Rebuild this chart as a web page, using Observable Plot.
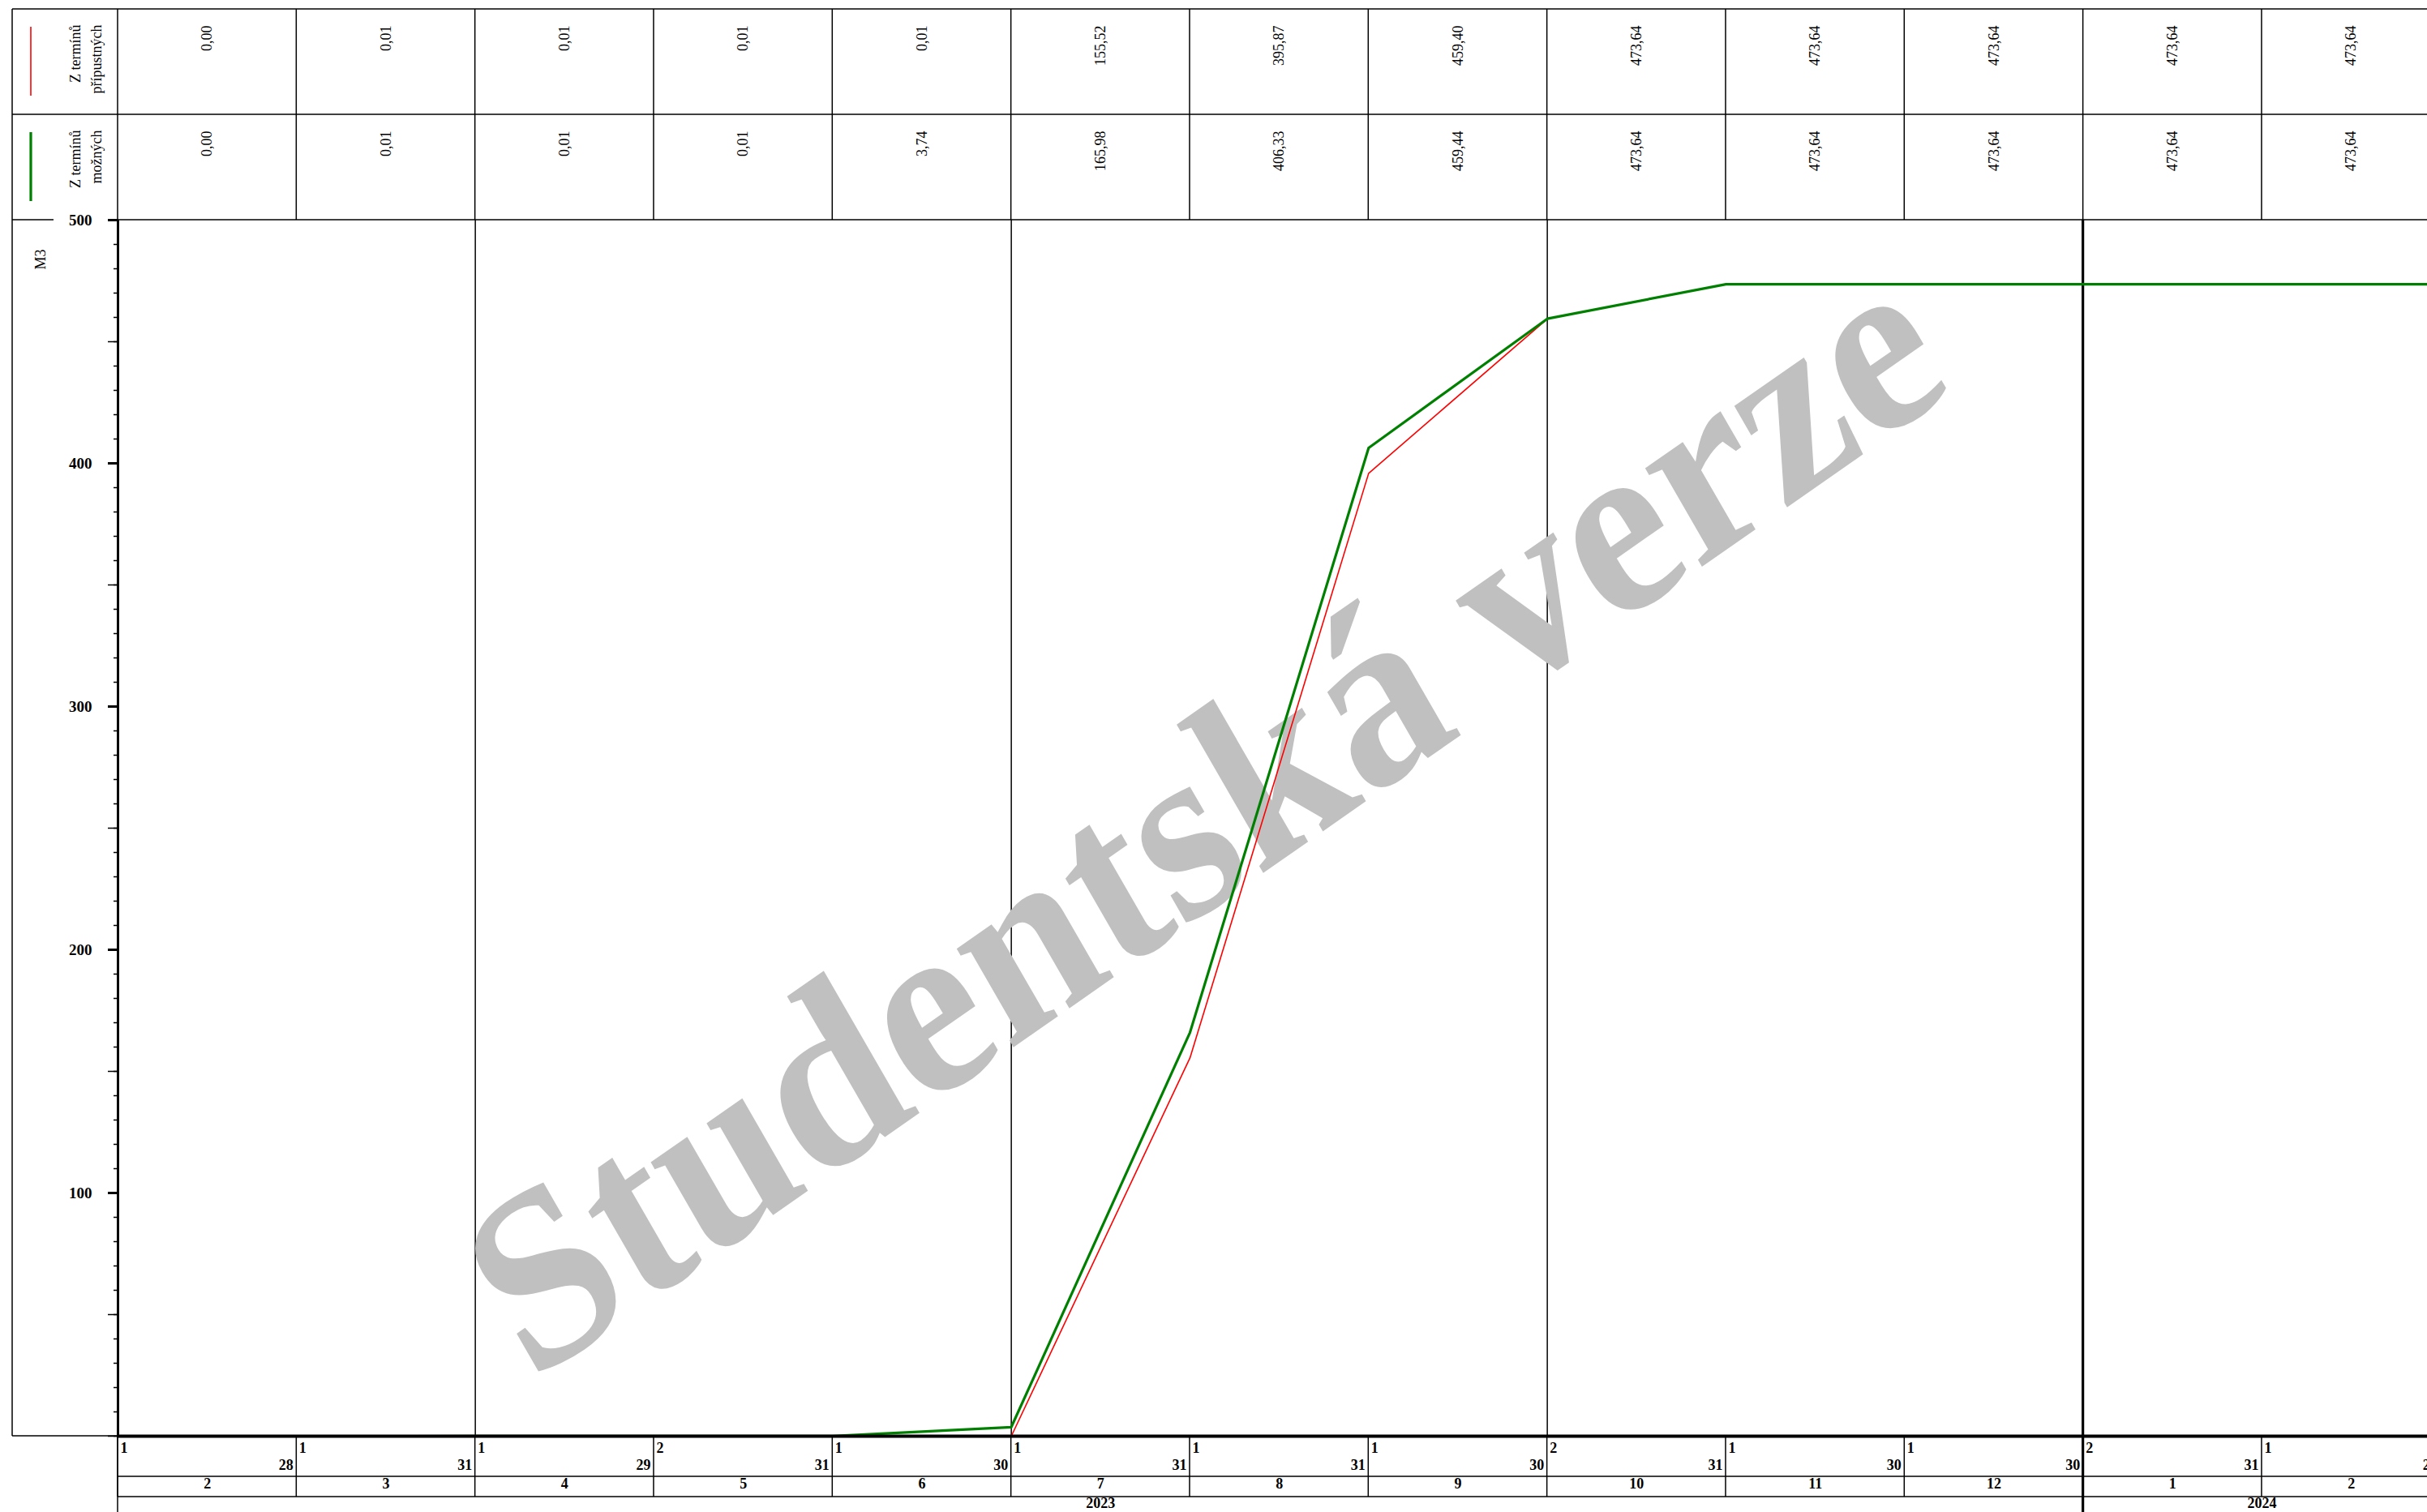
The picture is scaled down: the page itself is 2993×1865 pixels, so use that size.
<!DOCTYPE html>
<html><head><meta charset="utf-8">
<script src="https://cdn.jsdelivr.net/npm/d3@7"></script>
<script src="https://cdn.jsdelivr.net/npm/@observablehq/plot@0.6"></script>
<style>
html,body{margin:0;padding:0;background:#fff;overflow:hidden;}
#chart svg{overflow:hidden;display:block;}
</style></head><body><div id="chart"></div>
<script>
// ---- data ----
const monthLabels = ["2","3","4","5","6","7","8","9","10","11","12","1","2"];
const yearLabels  = ["2023","2023","2023","2023","2023","2023","2023","2023","2023","2023","2023","2024","2024"];
const firstDays   = ["1","1","1","2","1","1","1","1","2","1","1","2","1"];
const lastDays    = ["28","31","29","31","30","31","31","30","31","30","30","31","29"];
const pripustnych = [0.00, 0.01, 0.01, 0.01, 0.01, 155.52, 395.87, 459.40, 473.64, 473.64, 473.64, 473.64, 473.64];
const moznych     = [0.00, 0.01, 0.01, 0.01, 3.74, 165.98, 406.33, 459.44, 473.64, 473.64, 473.64, 473.64, 473.64];
const seriesNames = ["Z termínů\npřípustných", "Z termínů\nmožných"];
const seriesColors = ["#ff0000", "#008000"];
const yMajorTicks = [100, 200, 300, 400, 500];
const yUnit = "M3";
const watermarkText = "Studentská verze";

// ---- layout ----
const W = 2993, H = 1865;
const L = 145, T = 271, B = 1771;
const colW = 220.33;
const frameLeft = 15, tableTop = 11, rowH = 130;
const n = monthLabels.length;
const FONT = "'Liberation Serif', 'Times New Roman', serif";

const fmt = v => d3.format(".2f")(v).replace(".", ",");
const months = monthLabels.map((m, i) => ({i, m, first: firstDays[i], last: lastDays[i], year: yearLabels[i], p: pripustnych[i], z: moznych[i]}));
const years = Array.from(d3.group(months, d => d.year), ([year, ms]) => ({year, start: ms[0].i, end: ms[ms.length - 1].i + 1}));
const yearStarts = years.slice(1).map(d => d.start);
const quarterStarts = months.filter(d => (+d.m - 1) % 3 === 0 && +d.m !== 1).map(d => d.i);

function frameMark(index, {x}) {
  const g = d3.create("svg:g").attr("stroke", "#000").attr("fill", "none");
  const xr = x(n);
  const line = (x1, y1, x2, y2, w = 1.5, c = "#000") =>
    g.append("line").attr("x1", x1).attr("y1", y1).attr("x2", x2).attr("y2", y2).attr("stroke-width", w).attr("stroke", c);
  line(frameLeft, tableTop, xr, tableTop);
  line(frameLeft, tableTop + rowH, xr, tableTop + rowH);
  line(frameLeft, T, 66, T);
  line(L, T, xr, T);
  line(frameLeft, tableTop, frameLeft, B);
  line(frameLeft, B, L, B);
  for (let i = 0; i <= n; i++) line(x(i), tableTop, x(i), T);
  for (let i = 0; i <= n; i++) line(x(i), B, x(i), B + 75);
  line(L, B + 50, xr, B + 50);
  line(L, B + 75, xr, B + 75);
  line(L, B, L, H);
  for (const s of yearStarts) line(x(s), T, x(s), H, 3.2);
  // legend swatches
  line(38, 33, 38, 118, 1.6, seriesColors[0]);
  line(38, 163, 38, 248, 3.2, seriesColors[1]);
  return g.node();
}

function watermarkMark() {
  const g = d3.create("svg:g");
  g.append("text")
    .attr("transform", "translate(655,1707) scale(1,1.1) rotate(-32.4)")
    .attr("font-family", FONT)
    .attr("font-weight", "bold")
    .attr("font-size", 285)
    .attr("fill", "#c0c0c0")
    .attr("text-anchor", "start")
    .text(watermarkText);
  return g.node();
}

const chart = Plot.plot({
  width: W, height: H,
  marginLeft: L, marginTop: T, marginBottom: H - B, marginRight: 0,
  style: {fontFamily: FONT, fontSize: "18px", background: "#fff", overflow: "hidden"},
  x: {type: "linear", domain: [0, n], range: [L, L + colW * n], axis: null},
  y: {domain: [0, 500]},
  marks: [
    Plot.ruleX(quarterStarts, {x: d => d, stroke: "#000", strokeWidth: 1.5}),
    frameMark,
    watermarkMark,
    // y axis ticks
    Plot.axisY({ticks: d3.range(0, 501, 10), tickSize: 5, strokeWidth: 1.5, tickFormat: () => "", label: null}),
    Plot.axisY({ticks: d3.range(0, 501, 50), tickSize: 12, strokeWidth: 1.5, tickFormat: () => "", label: null}),
    Plot.axisY({ticks: yMajorTicks, tickSize: 12, tickPadding: 20, strokeWidth: 3, fontWeight: "bold", fontSize: 19, tickFormat: d => String(d), label: null}),
    Plot.ruleX([0], {stroke: "#000", strokeWidth: 3}),
    // data lines
    Plot.line(months, {x: d => d.i + 1, y: "p", stroke: seriesColors[0], strokeWidth: 1.6}),
    Plot.line(months, {x: d => d.i + 1, y: "z", stroke: seriesColors[1], strokeWidth: 3.2}),
    Plot.ruleY([0], {stroke: "#000", strokeWidth: 4}),
    // top table values
    Plot.text(months, {x: d => d.i + 0.5, text: d => fmt(d.p), frameAnchor: "top", dy: 31 - T, rotate: -90, textAnchor: "end", lineAnchor: "middle", fontSize: 18}),
    Plot.text(months, {x: d => d.i + 0.5, text: d => fmt(d.z), frameAnchor: "top", dy: 161 - T, rotate: -90, textAnchor: "end", lineAnchor: "middle", fontSize: 18}),
    // legend labels
    Plot.text([seriesNames[0]], {frameAnchor: "top-left", dx: 103.5 - L, dy: 30 - T, rotate: -90, textAnchor: "end", lineAnchor: "middle", lineHeight: 1.45, fontSize: 18}),
    Plot.text([seriesNames[1]], {frameAnchor: "top-left", dx: 103.5 - L, dy: 160 - T, rotate: -90, textAnchor: "end", lineAnchor: "middle", lineHeight: 1.45, fontSize: 18}),
    Plot.text([yUnit], {frameAnchor: "top-left", dx: 50 - L, dy: 307 - T, rotate: -90, textAnchor: "end", lineAnchor: "middle", fontSize: 18}),
    // bottom time axis
    Plot.text(months, {x: "i", text: "first", frameAnchor: "bottom", dy: 20, dx: 3, textAnchor: "start", fontWeight: "bold", fontSize: 18}),
    Plot.text(months, {x: d => d.i + 1, text: "last", frameAnchor: "bottom", dy: 41, dx: -4, textAnchor: "end", fontWeight: "bold", fontSize: 18}),
    Plot.text(months, {x: d => d.i + 0.5, text: "m", frameAnchor: "bottom", dy: 64, textAnchor: "middle", fontWeight: "bold", fontSize: 18}),
    Plot.text(years, {x: d => (d.start + d.end) / 2, text: "year", frameAnchor: "bottom", dy: 88, textAnchor: "middle", fontWeight: "bold", fontSize: 18})
  ]
});
document.getElementById("chart").appendChild(chart);
</script></body></html>
